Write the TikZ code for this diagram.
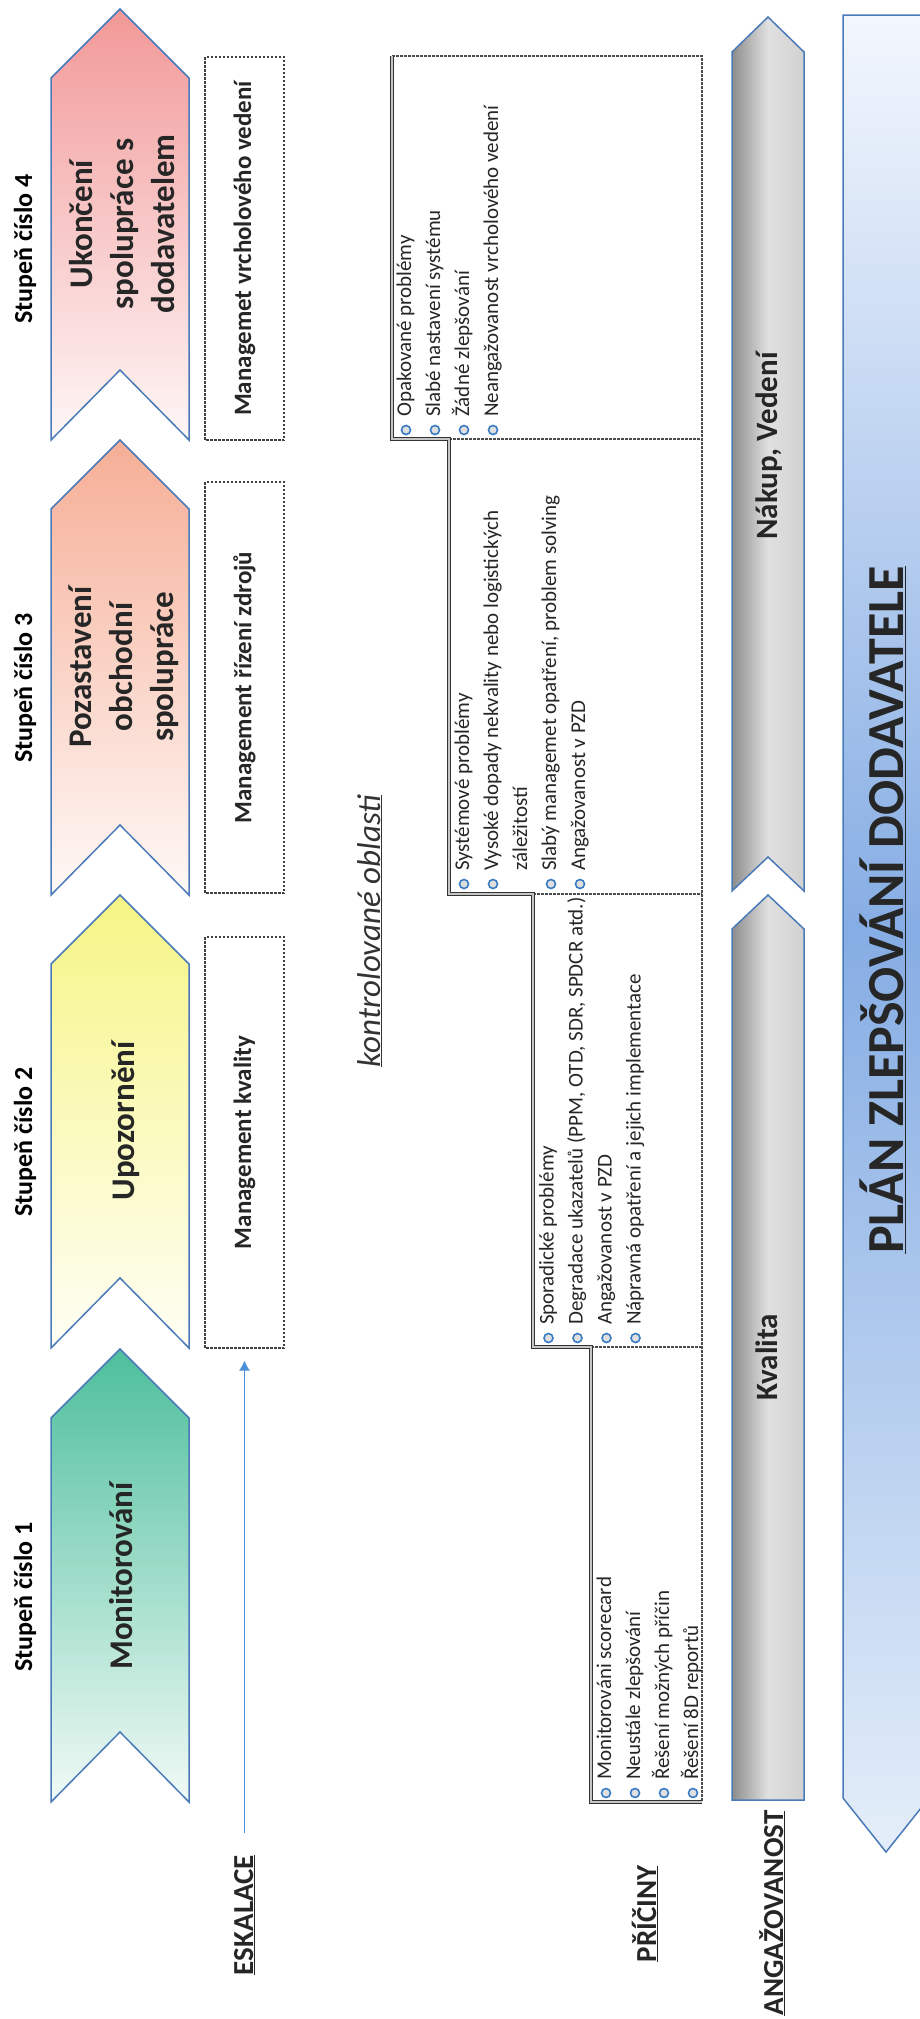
\documentclass[tikz,border=0pt]{standalone}
\usepackage{fontspec}
\setmainfont{Carlito}
\usepackage{tikz}
\usetikzlibrary{arrows.meta}

\definecolor{edgeblue}{HTML}{4A7AB8}
\definecolor{stageone}{HTML}{4DBF9B}
\definecolor{stagetwo}{HTML}{F6F585}
\definecolor{stagethree}{HTML}{F6AE96}
\definecolor{stagefour}{HTML}{F29898}
\definecolor{bulblue}{HTML}{3A7CC4}
\definecolor{eskblue}{HTML}{4A90D9}
\definecolor{plantop}{HTML}{F3F7FD}
\definecolor{planmid}{HTML}{86ADE4}
\definecolor{planbot}{HTML}{E4EEF9}

\tikzset{
  stageline/.style={draw=edgeblue, line width=1.5pt},
  stagelabel/.style={rotate=90, anchor=base, inner sep=0pt, font=\fontsize{26}{30}\selectfont\bfseries},
  stagetxt/.style={rotate=90, align=center, inner sep=0pt, text=black!85, font=\fontsize{33}{41}\selectfont\bfseries},
  mgmtbox/.style={draw=black!75, dash pattern=on 2.5pt off 1.5pt, line width=1.2pt, rotate=90,
    minimum height=79pt, inner sep=0pt, text=black!85, font=\fontsize{25}{30}\selectfont\bfseries},
  eskline/.style={draw=eskblue, line width=1.1pt, -{Latex[length=10pt, width=11pt]}, shorten >=12pt},
  sectlabel/.style={rotate=90, anchor=base, inner sep=0pt, text=black!85, font=\fontsize{29}{34}\selectfont\bfseries},
  areatxt/.style={rotate=90, anchor=base, inner sep=0pt, text=black!80, font=\fontsize{33}{38}\selectfont\itshape},
  causedash/.style={draw=black!70, dash pattern=on 2.5pt off 1.5pt, line width=1.2pt},
  stairline/.style={draw=black!80, line width=1.2pt, double=gray!45, double distance=1.2pt},
  bulletdot/.style={draw=bulblue, fill=gray!25, line width=1.6pt},
  causetxt/.style={rotate=90, anchor=base west, inner sep=0pt, text=black!85, font=\fontsize{21}{26}\selectfont},
  barline/.style={draw=edgeblue, line width=1.5pt},
  barshade/.style={left color=black!45, right color=black!18, middle color=black!12},
  bartxt/.style={rotate=90, anchor=base, inner sep=0pt, text=black!85, font=\fontsize{31}{36}\selectfont\bfseries},
  planline/.style={draw=edgeblue, line width=1.5pt},
  planshade/.style={top color=plantop, bottom color=planbot, middle color=planmid},
  titletxt/.style={rotate=90, anchor=base, inner sep=0pt, text=black!85, font=\fontsize{52}{60}\selectfont\bfseries}
}

\begin{document}
\begin{tikzpicture}[x=1pt, y=-1pt]
  \useasboundingbox (0,0) rectangle (920,2019);

  % stage arrows
  \foreach \tip/\bot/\col in {1349/1802/stageone, 895/1348/stagetwo, 440/895/stagethree, 9/440/stagefour}
    \draw[stageline, top color=\col, bottom color=\col!8!white]
      (51,\tip+69) -- (120,\tip) -- (189,\tip+69) -- (189,\bot) -- (120,\bot-70) -- (51,\bot) -- cycle;

  \node[stagelabel] (lab1) at (32,1597) {Stupeň číslo 1};
  \node[stagelabel] (lab2) at (32,1142) {Stupeň číslo 2};
  \node[stagelabel] (lab3) at (32,688) {Stupeň číslo 3};
  \node[stagelabel] (lab4) at (32,249) {Stupeň číslo 4};

  \node[stagetxt, anchor=base] (st1) at (132,1576) {Monitorování};
  \node[stagetxt, anchor=base] (st2) at (134,1121) {Upozornění};
  \node[stagetxt] (st3) at (124,667) {Pozastavení\\obchodní\\spolupráce};
  \node[stagetxt] (st4) at (122,224) {Ukončení\\spolupráce s\\dodavatelem};

  % management boxes
  \node[mgmtbox, minimum width=411pt] (mg2) at (244.5,1142.5) {Management kvality};
  \node[mgmtbox, minimum width=411pt] (mg3) at (244.5,687.5) {Management řízení zdrojů};
  \node[mgmtbox, minimum width=383pt] (mg4) at (244.5,248.5) {Managemet vrcholového vedení};

  \coordinate (eskstart) at (244.5,1833);
  \draw[eskline] (eskstart) -- (mg2.west);

  \node[sectlabel] (eskal) at (253,1915) {\underline{ESKALACE}};
  \node[sectlabel] (priciny) at (656,1914) {\underline{PŘÍČINY}};
  \node[sectlabel] (angaz) at (783,1913) {\underline{ANGAŽOVANOST}};

  \node[areatxt] (oblasti) at (380,931) {\underline{kontrolované oblasti}};

  % causes
  \draw[causedash] (392,56) -- (702,56) -- (702,1802);
  \draw[causedash] (449,439) -- (702,439);
  \draw[causedash] (533,894) -- (702,894);
  \draw[causedash] (591,1347) -- (702,1347);
  \draw[stairline] (392,56) -- (392,439) -- (449,439) -- (449,894) -- (533,894)
    -- (533,1347) -- (591,1347) -- (591,1802) -- (702,1802);

  \foreach \txt [count=\k] in {Monitorováni scorecard, Neustále zlepšování, Řešení možných příčin, Řešení 8D reportů} {
    \draw[bulletdot] (577+29*\k,1793) circle (4.5);
    \node[causetxt] (ca\k) at (582+29*\k,1780) {\txt};
  }
  \foreach \txt [count=\k] in {Sporadické problémy, {Degradace ukazatelů (PPM, OTD, SDR, SPDCR atd.)}, Angažovanost v PZD, Nápravná opatření a jejich implementace} {
    \draw[bulletdot] (519.5+29*\k,1338) circle (4.5);
    \node[causetxt] (cb\k) at (524.5+29*\k,1325) {\txt};
  }
  \foreach \txt [count=\k] in {Systémové problémy, Vysoké dopady nekvality nebo logistických, záležitostí, {Slabý managemet opatření, problem solving}, Angažovanost v PZD}
    \node[causetxt] (cc\k) at (440+29*\k,871) {\txt};
  \foreach \k in {1,2,4,5}
    \draw[bulletdot] (435+29*\k,884) circle (4.5);
  \foreach \txt [count=\k] in {Opakované problémy, Slabé nastavení systému, Žádné zlepšování, Neangažovanost vrcholového vedení} {
    \draw[bulletdot] (377+29*\k,430) circle (4.5);
    \node[causetxt] (cd\k) at (382+29*\k,417) {\txt};
  }

  % engagement bars
  \draw[barline, barshade] (732,52) -- (768,17) -- (804,52) -- (804,891) -- (768,857) -- (732,891) -- cycle;
  \draw[barline, barshade] (732,929) -- (768,895) -- (804,929) -- (804,1800) -- (732,1800) -- cycle;
  \node[bartxt] (nakup) at (777,446) {Nákup, Vedení};
  \node[bartxt] (kval) at (777,1357) {Kvalita};

  % plan arrow
  \draw[planline, planshade] (843,15) -- (929,15) -- (929,1798) -- (886,1852) -- (843,1798) -- cycle;
  \node[titletxt] (plan) at (903,910) {\underline{PLÁN ZLEPŠOVÁNÍ DODAVATELE}};
\end{tikzpicture}
\end{document}
